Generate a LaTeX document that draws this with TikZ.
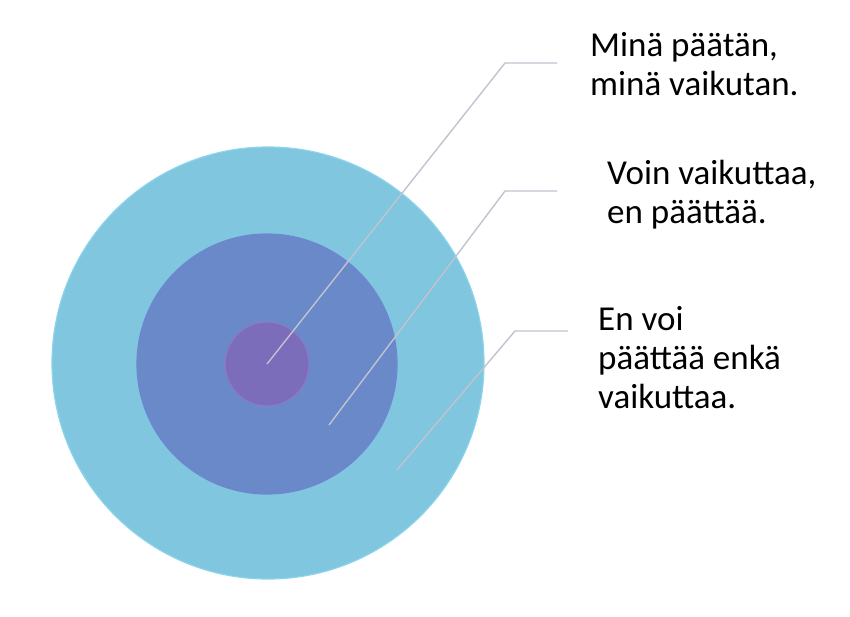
\documentclass[tikz,border=0pt]{standalone}
\usepackage{fontspec}
\setmainfont{Carlito}
\usepackage{xcolor}
\usetikzlibrary{positioning}
\definecolor{outerblue}{HTML}{80C6DE}
\definecolor{outerrim}{HTML}{8AD4EC}
\definecolor{midblue}{HTML}{6A89C9}
\definecolor{midrim}{HTML}{6E86D2}
\definecolor{corepurple}{HTML}{7B6DB9}
\definecolor{corerim}{HTML}{8A7BC6}
\definecolor{leader}{HTML}{C2C2D0}

\begin{document}
\begin{tikzpicture}[x=1pt, y=-1pt,
    disc/.style={circle, inner sep=0pt, line width=1.2pt},
    lbl/.style={anchor=base west, inner sep=0pt, align=left, font=\fontsize{35}{39}\selectfont},
    lead/.style={leader, line width=1.4pt}];
                                \useasboundingbox (0, 0) rectangle (850, 616);
                                \node[disc, fill=outerblue, draw=outerrim, minimum size=432pt] (o) at (268, 363) {};
                                \node[disc, fill=midblue, draw=midrim, minimum size=260pt] (m) at (267, 364) {};
                                \node[disc, fill=corepurple, draw=corerim, minimum size=84pt] (c) at (267, 364) {};
                                \node[lbl] (tc) at (590, 95) {Minä päätän,\\minä vaikutan.};
                                \node[lbl] (tm) at (607, 223) {Voin vaikuttaa,\\en päättää.};
                                \node[lbl] (to) at (598, 408) {En voi\\päättää enkä\\vaikuttaa.};
                                \coordinate (pm) at (329, 425);
                                \coordinate (po) at (397, 470);
                                \coordinate (bc) at (505, 63);
                                \coordinate (bm) at (505, 191);
                                \coordinate (bo) at (515, 331);
                                \coordinate (ec) at (557, 63);
                                \coordinate (em) at (557, 191);
                                \coordinate (eo) at (568, 331);
                                \draw[lead] (c.center) -- (bc) -- (ec);
                                \draw[lead] (pm) -- (bm) -- (em);
                                \draw[lead] (po) -- (bo) -- (eo);
                            \end{tikzpicture}
\end{document}
